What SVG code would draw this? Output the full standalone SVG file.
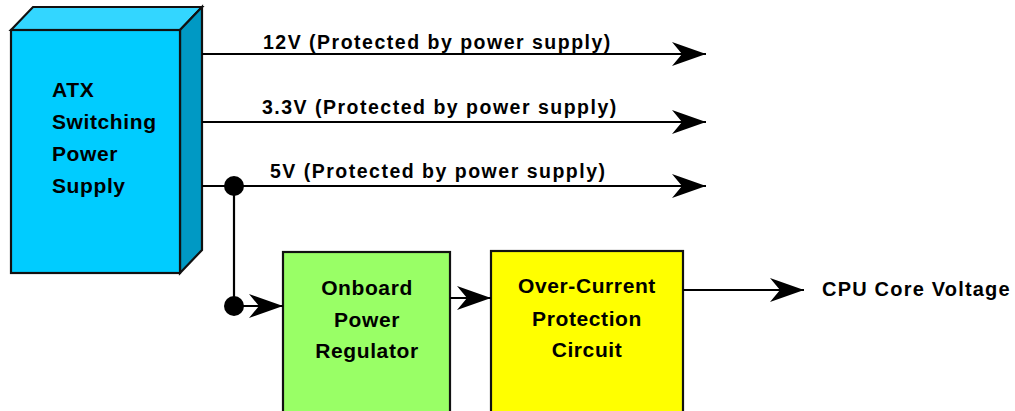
<svg xmlns="http://www.w3.org/2000/svg" width="1015" height="411" viewBox="0 0 1015 411">
<defs>
<style>
.t{font-family:"Liberation Sans",Arial,sans-serif;font-weight:bold;fill:#000;}
.lbl{font-size:19.5px;letter-spacing:1.5px;}
.box{font-size:21px;letter-spacing:0.6px;}
.ln{stroke:#000;stroke-width:2.2;fill:none;}
.edge{stroke:#111;stroke-width:2.2;stroke-linejoin:miter;}
</style>
<marker id="ah" viewBox="0 0 34 24" refX="34" refY="12" markerWidth="34" markerHeight="24" markerUnits="userSpaceOnUse" orient="auto">
<path d="M0,0 L34,12 L0,24 L10,12 Z" fill="#000"/>
</marker>
</defs>
<rect width="1015" height="411" fill="#fff"/>
<g id="atx">
<polygon class="edge" points="11,30 33,7 202,7 180,30" fill="#33D6FF"/>
<polygon class="edge" points="180,30 202,7 202,250 180,273" fill="#0099C4"/>
<rect class="edge" x="11" y="30" width="169" height="243" fill="#00CCFF"/>
<text class="t box" x="52" y="97">ATX</text>
<text class="t box" x="52" y="129">Switching</text>
<text class="t box" x="52" y="161">Power</text>
<text class="t box" x="52" y="193">Supply</text>
</g>
<g id="regulator">
<rect class="edge" x="283" y="252" width="167" height="170" fill="#99FF66"/>
<text class="t box" x="367" y="295" text-anchor="middle">Onboard</text>
<text class="t box" x="367" y="327" text-anchor="middle">Power</text>
<text class="t box" x="367" y="358" text-anchor="middle">Regulator</text>
</g>
<g id="protection">
<rect class="edge" x="491" y="251" width="192" height="170" fill="#FFFF00"/>
<text class="t box" x="587" y="293" text-anchor="middle">Over-Current</text>
<text class="t box" x="587" y="326" text-anchor="middle">Protection</text>
<text class="t box" x="587" y="357" text-anchor="middle">Circuit</text>
</g>
<g id="cpu">
<text class="t" x="822" y="296" style="font-size:20px;letter-spacing:1.2px">CPU Core Voltage</text>
</g>
<g id="connectors">
<line class="ln" x1="202" y1="54" x2="706" y2="54" marker-end="url(#ah)"/>
<line class="ln" x1="202" y1="122" x2="706" y2="122" marker-end="url(#ah)"/>
<line class="ln" x1="202" y1="186" x2="706" y2="186" marker-end="url(#ah)"/>
<line class="ln" x1="234" y1="186" x2="234" y2="306"/>
<line class="ln" x1="234" y1="306" x2="283" y2="306" marker-end="url(#ah)"/>
<line class="ln" x1="450" y1="298" x2="491" y2="298" marker-end="url(#ah)"/>
<line class="ln" x1="683" y1="290" x2="804" y2="290" marker-end="url(#ah)"/>
<circle cx="234" cy="186" r="10" fill="#000"/>
<circle cx="234" cy="306" r="10" fill="#000"/>
<text class="t lbl" x="263" y="49">12V (Protected by power supply)</text>
<text class="t lbl" x="262" y="114">3.3V (Protected by power supply)</text>
<text class="t lbl" x="270" y="178">5V (Protected by power supply)</text>
</g>
</svg>
